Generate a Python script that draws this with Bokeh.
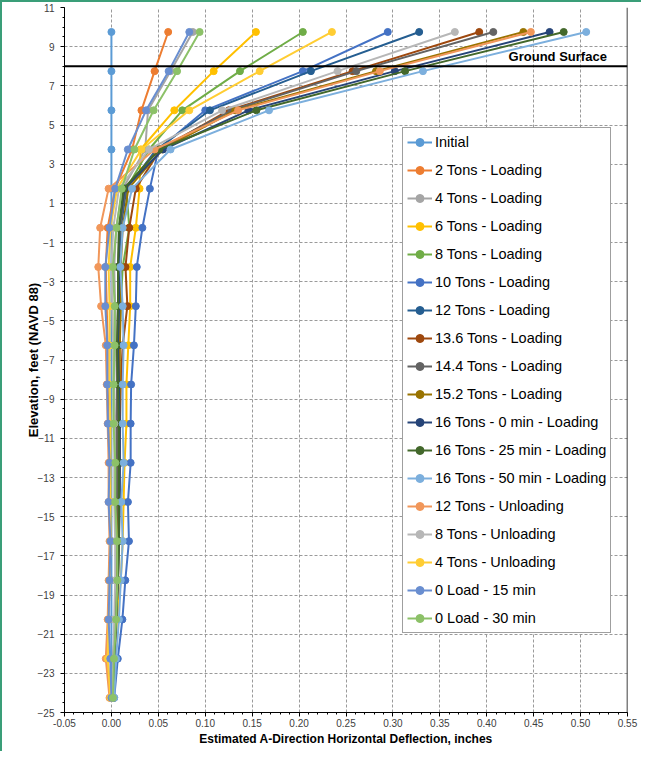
from bokeh.plotting import figure
from bokeh.models import (Range1d, FixedTicker, PrintfTickFormatter, Span, Label, Legend)
from bokeh.embed import file_html
from bokeh.resources import INLINE

# ---------------- data ----------------
elevation = [9.75, 7.75, 5.75, 3.75, 1.75, -0.25, -2.25, -4.25, -6.25, -8.25,
             -10.25, -12.25, -14.25, -16.25, -18.25, -20.25, -22.25, -24.25]

series_names = ["Initial", "2 Tons - Loading", "4 Tons - Loading", "6 Tons - Loading",
                "8 Tons - Loading", "10 Tons - Loading", "12 Tons - Loading",
                "13.6 Tons - Loading", "14.4 Tons - Loading", "15.2 Tons - Loading",
                "16 Tons - 0 min - Loading", "16 Tons - 25 min - Loading",
                "16 Tons - 50 min - Loading", "12 Tons - Unloading", "8 Tons - Unloading",
                "4 Tons - Unloading", "0 Load - 15 min", "0 Load - 30 min"]

series_colors = ["#5B9BD5", "#ED7D31", "#A5A5A5", "#FFC000", "#70AD47", "#4472C4",
                 "#255E91", "#9E480E", "#636363", "#997300", "#264478", "#43682B",
                 "#7CAFDD", "#F1975A", "#B7B7B7", "#FFCD33", "#698ED0", "#8CC168"]

initial      = [0.0] * 18
t2_load      = [0.0605, 0.046, 0.032, 0.022, 0.004, -0.004, -0.006, -0.005, -0.004, -0.004, -0.003, -0.002, -0.002, -0.001, -0.002, -0.003, -0.004, -0.001]
t4_load      = [0.0867, 0.063, 0.039, 0.036, 0.012, 0.005, 0.003, 0.004, 0.004, 0.003, 0.004, 0.005, 0.004, 0.005, 0.005, 0.004, 0.002, 0.001]
t6_load      = [0.154, 0.109, 0.067, 0.031, 0.030, 0.026, 0.020, 0.020, 0.018, 0.016, 0.016, 0.014, 0.013, 0.012, 0.010, 0.006, 0.004, 0.002]
t8_load      = [0.204, 0.137, 0.0755, 0.040, 0.016, 0.019, 0.012, 0.010, 0.008, 0.007, 0.007, 0.007, 0.007, 0.006, 0.006, 0.005, 0.003, 0.002]
t10_load     = [0.2945, 0.204, 0.100, 0.050, 0.041, 0.033, 0.027, 0.026, 0.024, 0.021, 0.0205, 0.0205, 0.0176, 0.0187, 0.0148, 0.0117, 0.0068, 0.003]
t12_load     = [0.328, 0.2126, 0.105, 0.048, 0.016, 0.010, 0.008, 0.008, 0.007, 0.007, 0.008, 0.008, 0.007, 0.007, 0.006, 0.005, 0.003, 0.002]
t13_6_load   = [0.392, 0.257, 0.125, 0.052, 0.026, 0.019, 0.015, 0.017, 0.012, 0.010, 0.009, 0.009, 0.008, 0.008, 0.007, 0.005, 0.003, 0.002]
t14_4_load   = [0.407, 0.261, 0.128, 0.050, 0.015, 0.009, 0.007, 0.007, 0.006, 0.006, 0.006, 0.006, 0.006, 0.006, 0.005, 0.004, 0.002, 0.001]
t15_2_load   = [0.439, 0.282, 0.132, 0.054, 0.018, 0.012, 0.010, 0.010, 0.009, 0.009, 0.008, 0.008, 0.008, 0.007, 0.006, 0.005, 0.003, 0.002]
t16_0min     = [0.467, 0.302, 0.146, 0.055, 0.014, 0.008, 0.008, 0.008, 0.007, 0.008, 0.009, 0.009, 0.009, 0.008, 0.007, 0.005, 0.003, 0.002]
t16_25min    = [0.482, 0.313, 0.1545, 0.051, 0.013, 0.008, 0.007, 0.007, 0.006, 0.007, 0.008, 0.008, 0.008, 0.008, 0.007, 0.005, 0.003, 0.002]
t16_50min    = [0.506, 0.332, 0.168, 0.063, 0.022, 0.012, 0.0095, 0.012, 0.013, 0.012, 0.012, 0.013, 0.0105, 0.012, 0.010, 0.008, 0.005, 0.003]
t12_unload   = [0.447, 0.286, 0.135, 0.046, -0.003, -0.012, -0.014, -0.011, -0.006, -0.005, -0.004, -0.003, -0.003, -0.002, -0.003, -0.004, -0.006, -0.002]
t8_unload    = [0.366, 0.241, 0.118, 0.040, 0.008, 0.002, 0.000, 0.001, 0.002, 0.002, 0.003, 0.003, 0.003, 0.004, 0.004, 0.003, 0.002, 0.001]
t4_unload    = [0.235, 0.158, 0.083, 0.032, 0.006, -0.001, -0.003, -0.002, -0.002, -0.002, -0.001, -0.001, -0.001, -0.001, -0.002, -0.003, -0.004, -0.001]
load0_15min  = [0.083, 0.061, 0.037, 0.0175, 0.004, -0.002, -0.0065, -0.0065, -0.0044, -0.0044, -0.0037, -0.0019, -0.003, -0.001, -0.002, -0.003, -0.0012, 0.0]
load0_30min  = [0.094, 0.070, 0.045, 0.0245, 0.011, 0.0055, 0.0015, 0.0035, 0.0034, 0.0023, 0.0023, 0.0042, 0.004, 0.006, 0.0063, 0.005, 0.0027, 0.0016]

series_values = [initial, t2_load, t4_load, t6_load, t8_load, t10_load, t12_load,
                 t13_6_load, t14_4_load, t15_2_load, t16_0min, t16_25min, t16_50min,
                 t12_unload, t8_unload, t4_unload, load0_15min, load0_30min]

x_ticks = [-0.05, 0.0, 0.05, 0.10, 0.15, 0.20, 0.25, 0.30, 0.35, 0.40, 0.45, 0.50, 0.55]
y_ticks = [11, 9, 7, 5, 3, 1, -1, -3, -5, -7, -9, -11, -13, -15, -17, -19, -21, -23, -25]
ground_elev = 8
ground_label = "Ground Surface"
ground_label_x = 0.528
ground_label_y = 8.5

FONT = "Liberation Sans"

p = figure(width=641, height=751, output_backend="svg", toolbar_location=None,
           x_range=Range1d(-0.05, 0.55), y_range=Range1d(-25, 11),
           min_border_left=62, min_border_right=16, min_border_top=5, min_border_bottom=41,
           background_fill_color="white", border_fill_color="white")
p.outline_line_color = None

# axes
p.xaxis.ticker = FixedTicker(ticks=x_ticks,
                             minor_ticks=[round(-0.05 + i * 0.01, 3) for i in range(61)])
p.xaxis.formatter = PrintfTickFormatter(format="%.2f")
p.yaxis.ticker = FixedTicker(ticks=y_ticks, minor_ticks=[-25 + i * 0.5 for i in range(73)])
p.xgrid.ticker = FixedTicker(ticks=x_ticks)
p.ygrid.ticker = FixedTicker(ticks=y_ticks)

for ax in (p.xaxis[0], p.yaxis[0]):
    ax.axis_line_color = "black"
    ax.axis_line_width = 1
    ax.major_tick_line_color = "black"
    ax.minor_tick_line_color = "black"
    ax.major_tick_out = 4
    ax.major_tick_in = 0
    ax.minor_tick_out = 2
    ax.minor_tick_in = 0
    ax.major_label_text_font = FONT
    ax.major_label_text_font_size = "10px"
    ax.major_label_text_color = "#404040"
    ax.axis_label_text_font = FONT
    ax.axis_label_text_font_style = "bold"
    ax.axis_label_text_color = "black"

p.xaxis.major_label_standoff = 2
p.yaxis.major_label_standoff = 6
p.xaxis.axis_label = "Estimated A-Direction Horizontal Deflection, inches"
p.xaxis.axis_label_text_font_size = "12px"
p.xaxis.axis_label_standoff = 2
p.yaxis.axis_label = "Elevation, feet (NAVD 88)"
p.yaxis.axis_label_text_font_size = "13px"
p.yaxis.axis_label_standoff = -6

for g in (p.xgrid[0], p.ygrid[0]):
    g.grid_line_color = "#9a9a9a"
    g.grid_line_dash = "3 2"
    g.grid_line_width = 1

# right frame edge
p.add_layout(Span(location=0.55, dimension="height", line_color="black", line_width=1.5))

# series
items = []
for name, color, vals in zip(series_names, series_colors, series_values):
    r1 = p.line(vals, elevation, line_color=color, line_width=2)
    r2 = p.scatter(vals, elevation, marker="circle", size=7, fill_color=color, line_color=color)
    items.append((name, [r1, r2]))

# ground surface
p.add_layout(Span(location=ground_elev, dimension="width", line_color="black", line_width=2))
p.add_layout(Label(x=ground_label_x, y=ground_label_y, text=ground_label, text_align="right",
                   text_baseline="middle", text_font=FONT, text_font_size="13px",
                   text_font_style="bold", text_color="black"))

legend = Legend(items=items, location=(338, 79), margin=0, padding=4, spacing=8,
                glyph_width=25, glyph_height=20, label_height=20, label_standoff=3,
                label_text_font=FONT, label_text_font_size="14.5px", label_text_color="black",
                border_line_color="#404040", border_line_width=1,
                background_fill_color="white", background_fill_alpha=1)
p.add_layout(legend)

p.styles = {"border-top": "2px solid #3a9e78", "border-left": "2px solid #3a9e78"}

open("out.html", "w").write(file_html(p, INLINE))
